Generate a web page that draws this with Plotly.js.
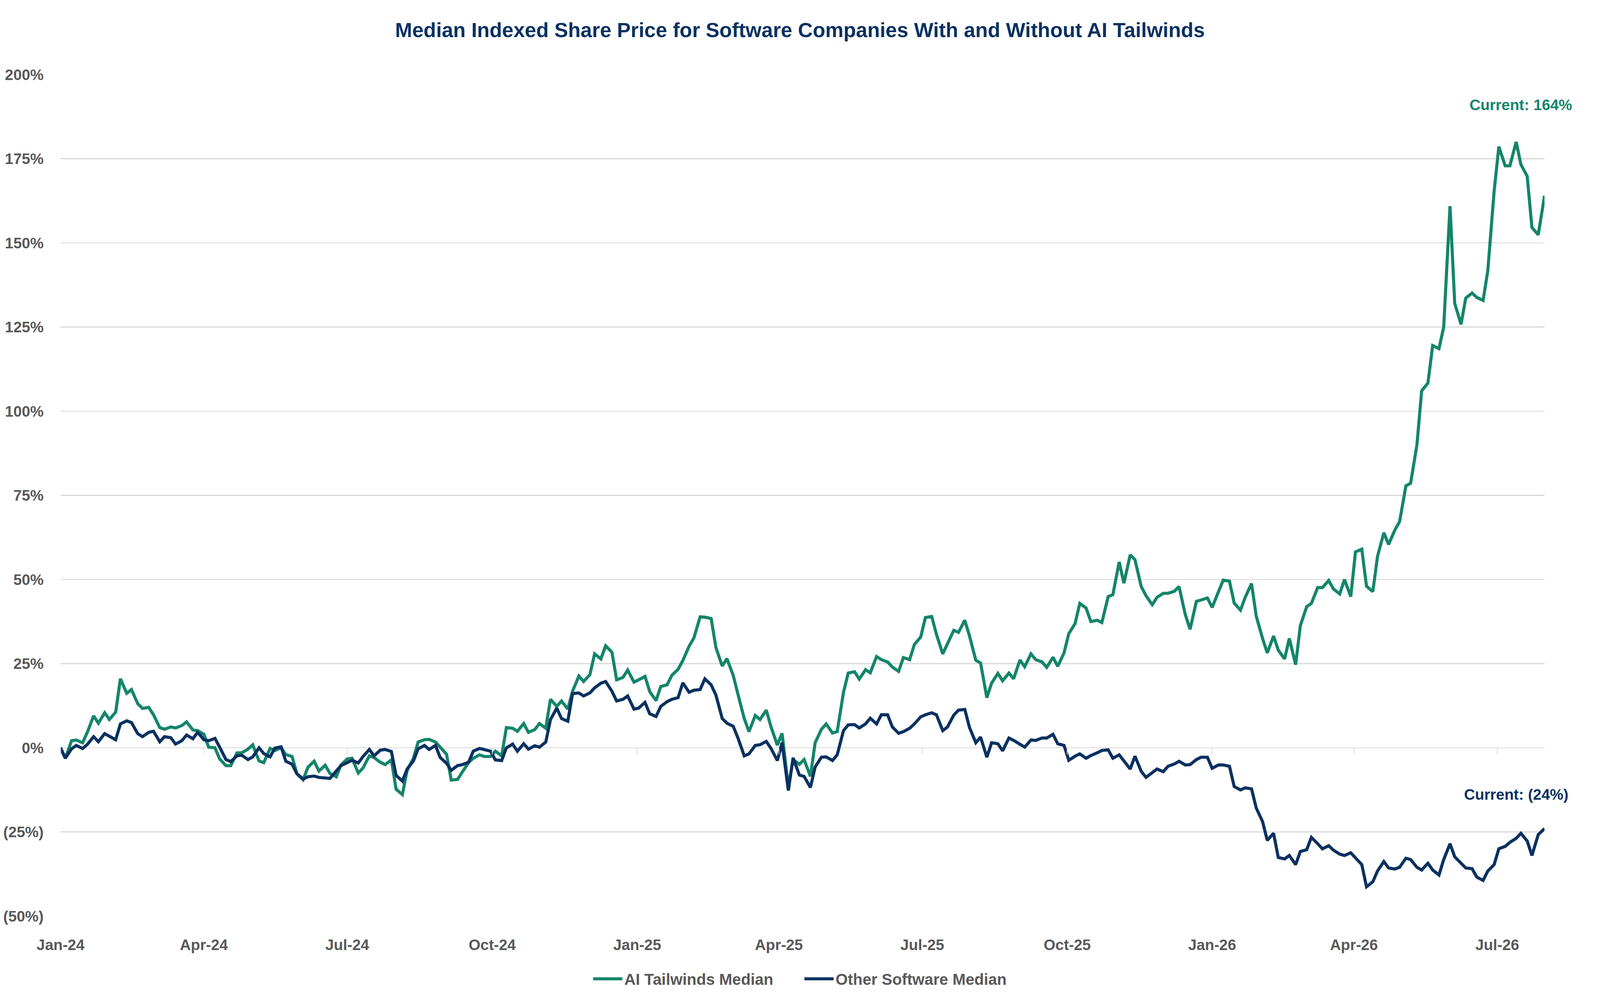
<!DOCTYPE html>
<html>
<head>
<meta charset="utf-8">
<script src="https://cdn.plot.ly/plotly-3.0.1.min.js"></script>
<style>
  html, body { margin: 0; padding: 0; background: #fff; overflow: hidden; }
  #chart { width: 100vw; height: 100vh; }
</style>
</head>
<body>
<div id="chart"></div>
<script>
var dates = [
  '2024-01-01','2024-01-04','2024-01-08','2024-01-11','2024-01-15','2024-01-18','2024-01-22','2024-01-25','2024-01-29',
  '2024-02-01','2024-02-05','2024-02-08','2024-02-12','2024-02-15','2024-02-19','2024-02-22','2024-02-26','2024-02-29',
  '2024-03-04','2024-03-07','2024-03-11','2024-03-14','2024-03-18','2024-03-21','2024-03-25','2024-03-28',
  '2024-04-01','2024-04-04','2024-04-08','2024-04-11','2024-04-15','2024-04-18','2024-04-22','2024-04-25','2024-04-29',
  '2024-05-02','2024-05-06','2024-05-09','2024-05-13','2024-05-16','2024-05-20','2024-05-23','2024-05-27','2024-05-30',
  '2024-06-03','2024-06-06','2024-06-10','2024-06-13','2024-06-17','2024-06-20','2024-06-24','2024-06-27',
  '2024-07-01','2024-07-04','2024-07-08','2024-07-11','2024-07-15','2024-07-18','2024-07-22','2024-07-25','2024-07-29',
  '2024-08-01','2024-08-05','2024-08-08','2024-08-12','2024-08-15','2024-08-19','2024-08-22','2024-08-26','2024-08-29',
  '2024-09-02','2024-09-05','2024-09-09','2024-09-12','2024-09-16','2024-09-19','2024-09-23','2024-09-26','2024-09-30',
  '2024-10-03','2024-10-07','2024-10-10','2024-10-14','2024-10-17','2024-10-21','2024-10-24','2024-10-28','2024-10-31',
  '2024-11-04','2024-11-07','2024-11-11','2024-11-14','2024-11-18','2024-11-21','2024-11-25','2024-11-28',
  '2024-12-02','2024-12-05','2024-12-09','2024-12-12','2024-12-16','2024-12-19','2024-12-23','2024-12-26','2024-12-30',
  '2025-01-02','2025-01-06','2025-01-09','2025-01-13','2025-01-16','2025-01-20','2025-01-23','2025-01-27','2025-01-30',
  '2025-02-03','2025-02-06','2025-02-10','2025-02-13','2025-02-17','2025-02-20','2025-02-24','2025-02-27',
  '2025-03-03','2025-03-06','2025-03-10','2025-03-13','2025-03-17','2025-03-20','2025-03-24','2025-03-27','2025-03-31',
  '2025-04-03','2025-04-07','2025-04-10','2025-04-14','2025-04-17','2025-04-21','2025-04-24','2025-04-28',
  '2025-05-01','2025-05-05','2025-05-08','2025-05-12','2025-05-15','2025-05-19','2025-05-22','2025-05-26','2025-05-29',
  '2025-06-02','2025-06-05','2025-06-09','2025-06-12','2025-06-16','2025-06-19','2025-06-23','2025-06-26','2025-06-30',
  '2025-07-03','2025-07-07','2025-07-10','2025-07-14','2025-07-17','2025-07-21','2025-07-24','2025-07-28','2025-07-31',
  '2025-08-04','2025-08-07','2025-08-11','2025-08-14','2025-08-18','2025-08-21','2025-08-25','2025-08-28',
  '2025-09-01','2025-09-04','2025-09-08','2025-09-11','2025-09-15','2025-09-18','2025-09-22','2025-09-25','2025-09-29',
  '2025-10-02','2025-10-06','2025-10-09','2025-10-13','2025-10-16','2025-10-20','2025-10-23','2025-10-27','2025-10-30',
  '2025-11-03','2025-11-06','2025-11-10','2025-11-13','2025-11-17','2025-11-20','2025-11-24','2025-11-27',
  '2025-12-01','2025-12-04','2025-12-08','2025-12-11','2025-12-15','2025-12-18','2025-12-22','2025-12-25','2025-12-29',
  '2026-01-01','2026-01-05','2026-01-08','2026-01-12','2026-01-15','2026-01-19','2026-01-22','2026-01-26','2026-01-29',
  '2026-02-02','2026-02-05','2026-02-09','2026-02-12','2026-02-16','2026-02-19','2026-02-23','2026-02-26',
  '2026-03-02','2026-03-05','2026-03-09','2026-03-12','2026-03-16','2026-03-19','2026-03-23','2026-03-26','2026-03-30',
  '2026-04-02','2026-04-06','2026-04-09','2026-04-13','2026-04-16','2026-04-20','2026-04-23','2026-04-27','2026-04-30',
  '2026-05-04','2026-05-07','2026-05-11','2026-05-14','2026-05-18','2026-05-21','2026-05-25','2026-05-28',
  '2026-06-01','2026-06-04','2026-06-08','2026-06-11','2026-06-15','2026-06-18','2026-06-22','2026-06-25','2026-06-29',
  '2026-07-02','2026-07-06','2026-07-09','2026-07-13','2026-07-16','2026-07-20','2026-07-23','2026-07-27','2026-07-31'
];

// AI Tailwinds median, % change since Jan-24
var aiTailwinds = [
  0,-3.1,2.1,2.3,1.5,4.6,9.5,7.3,10.4,
  8.4,10.6,20.5,16.2,17.3,13.1,11.7,12.0,9.8,
  6.0,5.5,6.2,5.9,6.6,7.7,5.3,5.1,
  4.0,0.2,0,-3.3,-5.3,-5.3,-1.5,-1.5,-0.4,
  0.9,-3.9,-4.4,-0.2,-0.8,0,-2.0,-2.6,-7.7,
  -9.5,-5.8,-4.0,-6.9,-5.2,-7.6,-8.6,-5.1,
  -3.3,-3.1,-7.5,-6.0,-2.4,-2.9,-4.3,-5.0,-3.6,
  -12.3,-13.9,-6.7,-3.1,1.7,2.4,2.5,1.7,0.2,
  -1.9,-9.6,-9.4,-7.2,-4.4,-3.1,-2.1,-2.6,-2.6,
  -1.0,-2.4,6.0,5.8,4.9,7.2,4.6,5.4,7.2,
  5.8,14.4,12.3,13.9,11.5,16.8,21.3,19.7,
  21.7,27.9,26.4,30.3,28.4,20.2,20.9,23.1,19.5,
  20.2,21.2,16.7,14.0,18.2,18.7,21.5,23.3,25.9,
  30.2,32.6,38.9,38.8,38.4,29.8,24.3,26.5,
  21.5,15.9,8.7,4.8,9.6,8.4,11.2,6.2,0.8,
  4.3,-11.7,-3.5,-4.9,-3.5,-8.5,1.5,5.5,
  7.1,4.4,4.8,16.5,22.2,22.6,20.4,23.2,22.3,
  27.1,26.2,25.5,24.0,22.7,26.8,26.2,30.7,32.9,
  38.7,39.0,33.7,27.9,30.9,34.9,34.3,37.9,33.2,
  26.0,25.2,14.9,19.2,22.1,19.9,22.2,20.5,
  26.1,24.1,27.9,26.2,25.5,23.9,26.9,24.2,28.2,
  33.9,36.9,42.9,41.5,37.5,37.9,37.2,44.9,45.5,
  55.2,48.9,57.3,55.9,47.9,45.2,42.5,44.7,
  45.9,45.9,46.5,47.9,39.5,35.2,43.5,43.9,44.5,
  41.7,46.5,49.8,49.5,43.0,40.9,44.7,48.8,39.1,
  32.5,28.2,33.2,29.0,26.4,32.5,24.7,36.3,
  41.9,42.9,47.6,47.6,49.7,47.2,45.7,50.0,44.9,
  58.2,59.0,48.0,46.4,56.9,63.9,60.4,64.7,67.2,
  77.8,78.6,90.0,106.0,108.4,119.5,118.6,125.0,
  160.9,132.0,125.8,133.6,135.1,133.8,132.9,141.8,165.3,
  178.6,172.9,172.9,180.0,173.3,169.8,154.6,152.4,164.0
];

// Other software median, % change since Jan-24
var otherSoftware = [
  0,-3.1,-0.3,0.7,-0.2,1.0,3.3,1.8,4.2,
  3.4,2.4,7.1,8.0,7.5,4.2,3.3,4.6,4.9,
  1.8,3.3,3.0,1.1,2.1,3.8,2.7,4.6,
  2.4,2.1,2.8,0.2,-3.5,-4.1,-2.4,-2.2,-3.5,
  -2.7,0,-1.7,-2.7,-0.1,0.3,-4.0,-4.9,-7.7,
  -9.3,-8.6,-8.4,-8.8,-9.1,-9.1,-6.9,-5.3,
  -4.4,-3.7,-4.5,-2.6,-0.5,-2.4,-0.7,-0.5,-1.1,
  -8.2,-9.9,-6.3,-3.9,-0.3,0.7,-0.5,0.7,-2.9,
  -4.6,-6.7,-5.3,-5.0,-4.3,-1.0,-0.2,-0.6,-1.0,
  -3.6,-3.8,0,1.1,-1.0,1.2,-0.4,0.6,0.2,
  1.7,8.4,11.8,8.7,7.9,16.1,16.3,15.4,
  16.3,17.8,19.2,19.7,16.8,13.9,14.4,15.4,11.5,
  11.8,13.5,10.1,9.3,12.3,13.7,14.4,14.9,19.3,
  16.5,17.1,17.3,20.5,18.7,15.7,8.7,7.3,
  6.4,2.9,-2.4,-1.8,0.7,0.9,1.9,-0.2,-3.8,
  1.5,-12.7,-3.0,-8.1,-8.5,-11.8,-5.7,-2.8,
  -2.7,-3.8,-2.1,5.1,6.8,6.9,5.9,7.1,8.8,
  7.1,9.8,9.8,6.2,4.3,4.8,5.8,7.1,9.2,
  9.8,10.4,9.8,5.1,6.2,9.7,11.2,11.4,6.0,
  1.5,3.2,-2.8,1.5,1.2,-0.9,2.9,2.2,
  1.2,0.2,2.3,2.2,2.9,2.9,4.0,1.2,0.7,
  -3.7,-2.5,-1.8,-3.1,-2.3,-1.5,-0.8,-0.6,-3.1,
  -2.1,-3.8,-6.3,-2.5,-7.0,-8.8,-7.5,-6.3,
  -7.1,-5.5,-4.8,-4.0,-5.1,-5.0,-3.5,-2.8,-2.8,
  -6.1,-5.1,-5.1,-5.5,-11.5,-12.5,-11.9,-12.2,-17.9,
  -21.9,-27.5,-25.4,-32.6,-33.0,-32.0,-34.7,-30.8,
  -30.3,-26.6,-28.5,-30.0,-29.1,-30.4,-31.6,-32.0,-31.2,
  -32.6,-34.7,-41.3,-39.8,-36.6,-33.8,-35.7,-36.0,-35.5,
  -32.8,-33.2,-35.5,-36.3,-34.3,-36.3,-37.8,-33.2,
  -28.5,-32.4,-34.2,-35.7,-35.9,-38.4,-39.4,-36.6,-34.7,
  -30.0,-29.3,-28.1,-26.9,-25.4,-27.7,-32.0,-25.8,-24.0
];

var seriesNames = ['AI Tailwinds Median', 'Other Software Median'];
var xRange = ['2024-01-01', '2026-07-31'];
var yTickVals = [-50, -25, 0, 25, 50, 75, 100, 125, 150, 175, 200];
var yTickText = ['(50%)', '(25%)', '0%', '25%', '50%', '75%', '100%', '125%', '150%', '175%', '200%'];
var currentLabels = ['Current: 164%', 'Current: (24%)'];

var green = '#14856A', navy = '#0A3161', grey = '#595959', grid = '#D9D9D9';
var fam = 'Liberation Sans, Arial, sans-serif';
var clear = 'rgba(0,0,0,0)';

// the page may not be exactly 5703 css px wide, so size everything off the window
var W = Math.max(document.documentElement.clientWidth, window.innerWidth || 0);
var H = Math.max(document.documentElement.clientHeight, window.innerHeight || 0);
var s = W / 5703, sv = H / 2566; // design was measured at 5703x2566
function px(v) { return v * s; }
function py(v) { return v * sv; }

var xFont = px(54);
var traces = [
  { x: dates, y: aiTailwinds, name: seriesNames[0], type: 'scatter', mode: 'lines',
    line: { color: green, width: px(11) }, hoverinfo: 'skip' },
  // second x axis only carries the little tick marks on the 0% line
  { x: dates, y: otherSoftware, name: seriesNames[1], type: 'scatter', mode: 'lines', xaxis: 'x2',
    line: { color: navy, width: px(11) }, hoverinfo: 'skip' }
];

var layout = {
  width: W, height: H,
  paper_bgcolor: '#fff', plot_bgcolor: '#fff',
  margin: { l: px(216), r: px(198), t: py(191), b: py(220) },
  font: { family: fam, weight: 700, color: grey },
  title: { text: 'Median Indexed Share Price for Software Companies With and Without AI Tailwinds',
    x: 0.5, xanchor: 'center', y: 1 - 77 / 2566, yanchor: 'middle', yref: 'container',
    font: { family: fam, size: px(73), weight: 700, color: navy } },
  // invisible ticks just push the labels away from the plot
  xaxis: { type: 'date', range: xRange, tick0: '2024-01-01', dtick: 'M3', tickformat: '%b-%y',
    showgrid: false, zeroline: false, showline: false,
    ticks: 'outside', ticklen: Math.max(1, py(65) - 0.67 * xFont), tickcolor: clear,
    tickfont: { size: xFont, weight: 700, color: grey } },
  xaxis2: { type: 'date', range: xRange, overlaying: 'x', anchor: 'free', position: 0.2,
    tick0: '2024-01-01', dtick: 'M3', ticks: 'outside', ticklen: py(16), tickwidth: px(3), tickcolor: grid,
    showticklabels: false, showgrid: false, zeroline: false, showline: false },
  yaxis: { range: [-50, 200], tickvals: yTickVals, ticktext: yTickText,
    showgrid: true, gridcolor: grid, gridwidth: px(3), zeroline: false, showline: false,
    ticks: 'outside', ticklen: px(48), tickcolor: clear,
    tickfont: { size: px(54), weight: 700, color: grey } },
  showlegend: true,
  legend: { orientation: 'h', x: 0.5, xanchor: 'center', y: -py(161) / (H - py(411)), yanchor: 'middle',
    font: { size: px(56), weight: 700, color: grey },
    itemwidth: Math.max(30, px(104)), entrywidth: px(628), entrywidthmode: 'pixels' },
  annotations: [
    { x: '2026-07-16', y: 191, xref: 'x', yref: 'y', text: currentLabels[0], showarrow: false,
      font: { size: px(54), weight: 700, color: green } },
    { x: '2026-07-13', y: -13.9, xref: 'x', yref: 'y', text: currentLabels[1], showarrow: false,
      font: { size: px(54), weight: 700, color: navy } }
  ]
};

Plotly.newPlot('chart', traces, layout, { displayModeBar: false, staticPlot: true });
</script>
</body>
</html>
